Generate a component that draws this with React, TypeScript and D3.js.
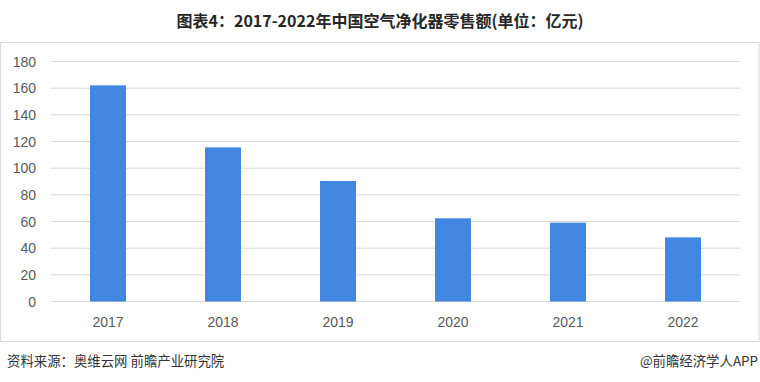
import React from "react";
import * as d3 from "d3";

const years = ["2017", "2018", "2019", "2020", "2021", "2022"];
const sales = [162.1, 115.6, 90.4, 62.4, 59.1, 48.1];
const yTicks = [0, 20, 40, 60, 80, 100, 120, 140, 160, 180];
const titleText = "图表4：2017-2022年中国空气净化器零售额(单位：亿元)";
const sourceText = "资料来源：奥维云网 前瞻产业研究院";
const brandText = "@前瞻经济学人APP";

const W = 760;
const H = 382;
const plotLeft = 50.5;
const plotRight = 740.5;
const plotTop = 61.5;
const plotBottom = 301.5;

export default function App() {
  const x = d3.scaleBand<string>().domain(years).range([plotLeft, plotRight]).paddingInner(0.687).paddingOuter(0.3435);
  const y = d3.scaleLinear().domain([0, 180]).range([plotBottom, plotTop]);
  const font = "'Liberation Sans', 'Noto Sans', Arial, sans-serif";
  const cjk = "'Noto Sans CJK SC', 'Liberation Sans', sans-serif";
  return (
    <svg width={W} height={H} style={{ position: "absolute", left: 0, top: 0, display: "block" }}>
      <rect x={0} y={0} width={W} height={H} fill="#ffffff" />
      <text x={380} y={27} textAnchor="middle" fontFamily={cjk} fontSize={16} fontWeight="bold" fill="#262626">
        {titleText}
      </text>
      <rect x={0.5} y={42.5} width={758.5} height={299} fill="none" stroke="#d9d9d9" strokeWidth={1} />
      {yTicks.map((t) => (
        <g key={t}>
          <line x1={plotLeft} x2={plotRight} y1={y(t)} y2={y(t)} stroke="#d9d9d9" strokeWidth={1} />
          <text x={36} y={y(t) + 5} textAnchor="end" fontFamily={font} fontSize={14} fill="#595959">
            {t}
          </text>
        </g>
      ))}
      {years.map((yr, i) => (
        <rect
          key={yr}
          x={x(yr)}
          y={y(sales[i])}
          width={x.bandwidth()}
          height={y(0) - y(sales[i])}
          fill="#4186e0"
        />
      ))}
      {years.map((yr) => (
        <text
          key={yr}
          x={(x(yr) as number) + x.bandwidth() / 2}
          y={327}
          textAnchor="middle"
          fontFamily={font}
          fontSize={14}
          fill="#595959"
        >
          {yr}
        </text>
      ))}
      <text x={7} y={366} fontFamily={cjk} fontSize={13.4} fill="#333333">
        {sourceText}
      </text>
      <text x={758} y={366} textAnchor="end" fontFamily={cjk} fontSize={13.4} fill="#333333">
        {brandText}
      </text>
    </svg>
  );
}
